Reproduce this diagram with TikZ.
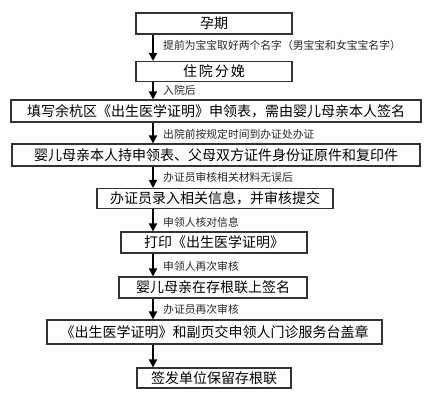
\documentclass[tikz,border=0pt]{standalone}
\usepackage{fontspec}
\setmainfont{Noto Sans CJK SC}
\usepackage{tikz}
\usetikzlibrary{arrows.meta}

\tikzset{
	kasten/.style={draw=black!80, line width=1.1pt, inner sep=0pt, font=\fontsize{14}{14}\selectfont},
	notiz/.style={anchor=west, inner sep=0pt, font=\fontsize{10.8}{10.8}\selectfont, text=black!85},
	pfeil/.style={-{Triangle[length=8pt,width=8pt]}, line width=1.6pt}
}

\begin{document}
\begin{tikzpicture}[x=1pt, y=-1pt]
	
	\useasboundingbox (0,0) rectangle (430,400);
	
	\node[kasten, minimum width=156pt, minimum height=21pt](a) at (214,23.5) {孕期};
	\node[kasten, minimum width=156pt, minimum height=20pt](b) at (214,71.5) {住\hspace{2pt}院\hspace{2pt}分\hspace{2pt}娩};
	\node[kasten, minimum width=410pt, minimum height=22pt](c) at (216,111) {填写余杭区《出生医学证明》申领表，需由婴儿母亲本人签名};
	\node[kasten, minimum width=408pt, minimum height=22pt](d) at (216,155) {婴儿母亲本人持申领表、父母双方证件身份证原件和复印件};
	\node[kasten, minimum width=236pt, minimum height=20pt](e) at (215,198.5) {办证员录入相关信息，并审核提交};
	\node[kasten, minimum width=186pt, minimum height=21pt](f) at (214,242.5) {打印《出生医学证明》};
	\node[kasten, minimum width=188pt, minimum height=21pt](g) at (213,287.5) {婴儿母亲在存根联上签名};
	\node[kasten, minimum width=335pt, minimum height=24pt](h) at (214.5,332) {《出生医学证明》和副页交申领人门诊服务台盖章};
	\node[kasten, minimum width=154pt, minimum height=20pt](i) at (214,378) {签发单位保留存根联};
	
	% Anmerkungen
	\node[notiz](A) at (163,45) {提前为宝宝取好两个名字（男宝宝和女宝宝名字）};
	\node[notiz](B) at (163,90) {入院后};
	\node[notiz](C) at (163,134) {出院前按规定时间到办证处办证};
	\node[notiz](D) at (163,177) {办证员审核相关材料无误后};
	\node[notiz](E) at (163,222) {申领人核对信息};
	\node[notiz](F) at (163,266) {申领人再次审核};
	\node[notiz](G) at (163,309) {办证员再次审核};
	
	% vertikale Pfeile
	\draw[pfeil](a.south -| 153,0) -- (b.north -| 153,0);
	\draw[pfeil](b.south -| 153,0) -- (c.north -| 153,0);
	\draw[pfeil](c.south -| 153,0) -- (d.north -| 153,0);
	\draw[pfeil](d.south -| 153,0) -- (e.north -| 153,0);
	\draw[pfeil](e.south -| 153,0) -- (f.north -| 153,0);
	\draw[pfeil](f.south -| 153,0) -- (g.north -| 153,0);
	\draw[pfeil](g.south -| 153,0) -- (h.north -| 153,0);
	\draw[pfeil](h.south -| 153,0) -- (i.north -| 153,0);
\end{tikzpicture}
\end{document}
